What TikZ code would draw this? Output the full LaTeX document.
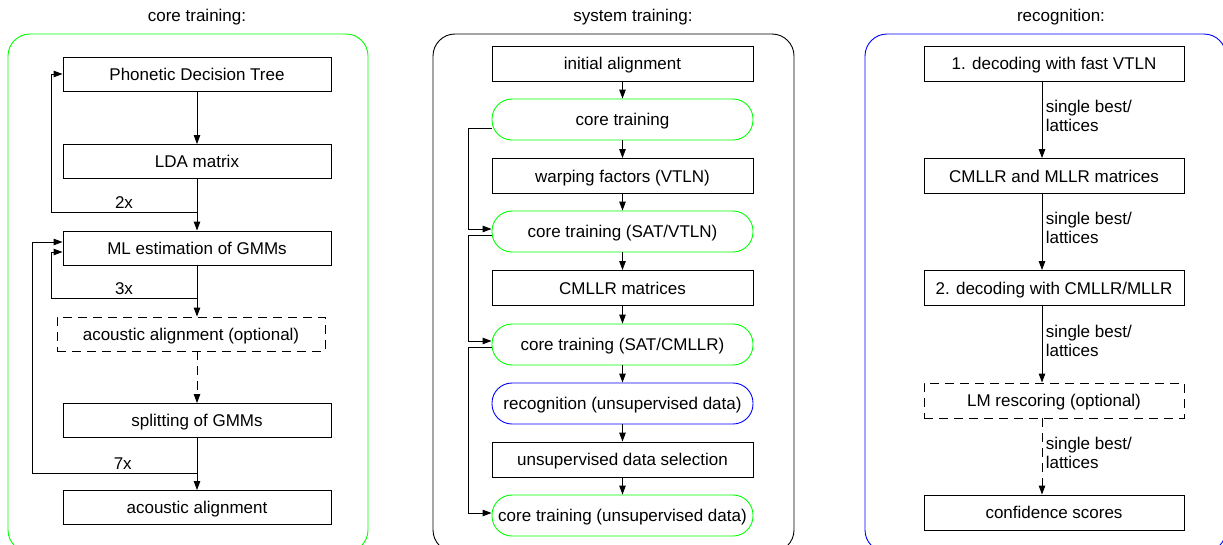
\documentclass[tikz,border=0pt]{standalone}
\usepackage{fontspec}
\setmainfont{Liberation Sans}
\usetikzlibrary{arrows.meta, positioning, calc}

\tikzset{
  stepbox/.style={draw=black, line width=0.9pt, rectangle, minimum width=268pt, minimum height=34pt, inner sep=0pt, text height=12.5pt, text depth=0pt},
  optbox/.style={stepbox, dash pattern=on 9pt off 6pt},
  midbox/.style={stepbox, minimum width=261pt, minimum height=35pt},
  corebox/.style={midbox, draw=green, rounded corners=20pt, minimum height=41pt},
  recbox/.style={corebox, draw=blue},
  decbox/.style={stepbox, minimum width=260pt, minimum height=35pt},
  frame/.style={draw, line width=0.9pt, rounded corners=22pt, minimum width=361pt, minimum height=518pt, inner sep=0pt},
  flow/.style={-{Triangle[length=9pt, width=6.5pt]}, line width=0.9pt},
  passes/.style={align=left, right, pos=0.45}
}

\begin{document}
\begin{tikzpicture}[x=1pt, y=-1pt, font=\fontsize{17}{19}\selectfont]
  \useasboundingbox (0,0) rectangle (1223,544);
  \clip (0,0) rectangle (1223,544);

  % frames and titles
  \node[frame, draw=green, minimum width=360pt] (coreframe) at (188,293) {};
  \node[frame, draw=black] (sysframe) at (613.5,293) {};
  \node[frame, draw=blue] (recframe) at (1045.5,293) {};
  \node (coretitle) at (197,17) {core training:};
  \node (systitle) at (633,17) {system training:};
  \node (rectitle) at (1061,17) {recognition:};

  % core training
  \node[stepbox] (pdt) at (197,74) {Phonetic Decision Tree};
  \node[stepbox] (lda) at (197,161.5) {LDA matrix};
  \node[stepbox] (mlest) at (197,248) {ML estimation of GMMs};
  \node[optbox] (optalign) at (191,334) {acoustic alignment (optional)};
  \node[stepbox] (split) at (197,420.5) {splitting of GMMs};
  \node[stepbox] (align) at (197,507.5) {acoustic alignment};

  \coordinate (loop2) at (197,212);
  \coordinate (loop3) at (197,298);
  \coordinate (loop7) at (197,473);

  \draw[flow] (pdt.south) -- (lda.north);
  \draw[flow] (lda.south) -- (mlest.north);
  \draw[flow] (mlest.south) -- (mlest.south |- optalign.north);
  \draw[flow, dash pattern=on 9pt off 6pt] (mlest.south |- optalign.south) -- (split.north);
  \draw[flow] (split.south) -- (align.north);
  \draw[flow] (loop2) -- node[above]{2x} ++(-146,0) |- (pdt.west);
  \draw[flow] (loop3) -- node[above]{3x} ++(-146,0) |- ($(mlest.west)+(0,4)$);
  \draw[flow] (loop7) -- node[above, pos=0.45]{7x} ++(-165,0) |- ($(mlest.west)+(0,-6)$);

  % system training
  \node[midbox] (init) at (622.5,63.5) {initial alignment};
  \node[corebox] (ct) at (622.5,119.5) {core training};
  \node[midbox] (warp) at (622.5,176) {warping factors (VTLN)};
  \node[corebox] (ctvtln) at (622.5,231.5) {core training (SAT/VTLN)};
  \node[midbox] (cmllr) at (622.5,288) {CMLLR matrices};
  \node[corebox] (ctcmllr) at (622.5,344.5) {core training (SAT/CMLLR)};
  \node[recbox] (recunsup) at (622.5,403.5) {recognition (unsupervised data)};
  \node[midbox] (select) at (622.5,459.5) {unsupervised data selection};
  \node[corebox] (ctunsup) at (622.5,515.5) {core training (unsupervised data)};

  \draw[flow] (init) -- (ct);
  \draw[flow] (ct) -- (warp);
  \draw[flow] (warp) -- (ctvtln);
  \draw[flow] (ctvtln) -- (cmllr);
  \draw[flow] (cmllr) -- (ctcmllr);
  \draw[flow] (ctcmllr) -- (recunsup);
  \draw[flow] (recunsup) -- (select);
  \draw[flow] (select) -- (ctunsup);
  \draw[flow] ($(ct.west)+(0,8.5)$) -- ++(-23,0) |- ($(ctvtln.west)+(0,-2.5)$);
  \draw[flow] ($(ctvtln.west)+(0,3.5)$) -- ++(-23,0) |- ($(ctcmllr.west)+(0,-3.5)$);
  \draw[flow] ($(ctcmllr.west)+(0,2.5)$) -- ++(-23,0) |- ($(ctunsup.west)+(0,-2.5)$);

  % recognition
  \node[decbox] (dec1) at (1054,63.5) {1. decoding with fast VTLN};
  \node[decbox] (mats) at (1054,176) {CMLLR and MLLR matrices};
  \node[decbox] (dec2) at (1054,288) {2. decoding with CMLLR/MLLR};
  \node[decbox, dash pattern=on 9pt off 6pt] (rescore) at (1054,400.5) {LM rescoring (optional)};
  \node[decbox] (conf) at (1054,512.5) {confidence scores};

  \draw[flow] ($(dec1.south)+(-12,0)$) -- node[passes]{single best/\\lattices} ($(mats.north)+(-12,0)$);
  \draw[flow] ($(mats.south)+(-12,0)$) -- node[passes]{single best/\\lattices} ($(dec2.north)+(-12,0)$);
  \draw[flow] ($(dec2.south)+(-12,0)$) -- node[passes]{single best/\\lattices} ($(rescore.north)+(-12,0)$);
  \draw[flow, dash pattern=on 9pt off 6pt] ($(rescore.south)+(-12,0)$) -- node[passes]{single best/\\lattices} ($(conf.north)+(-12,0)$);
\end{tikzpicture}
\end{document}
